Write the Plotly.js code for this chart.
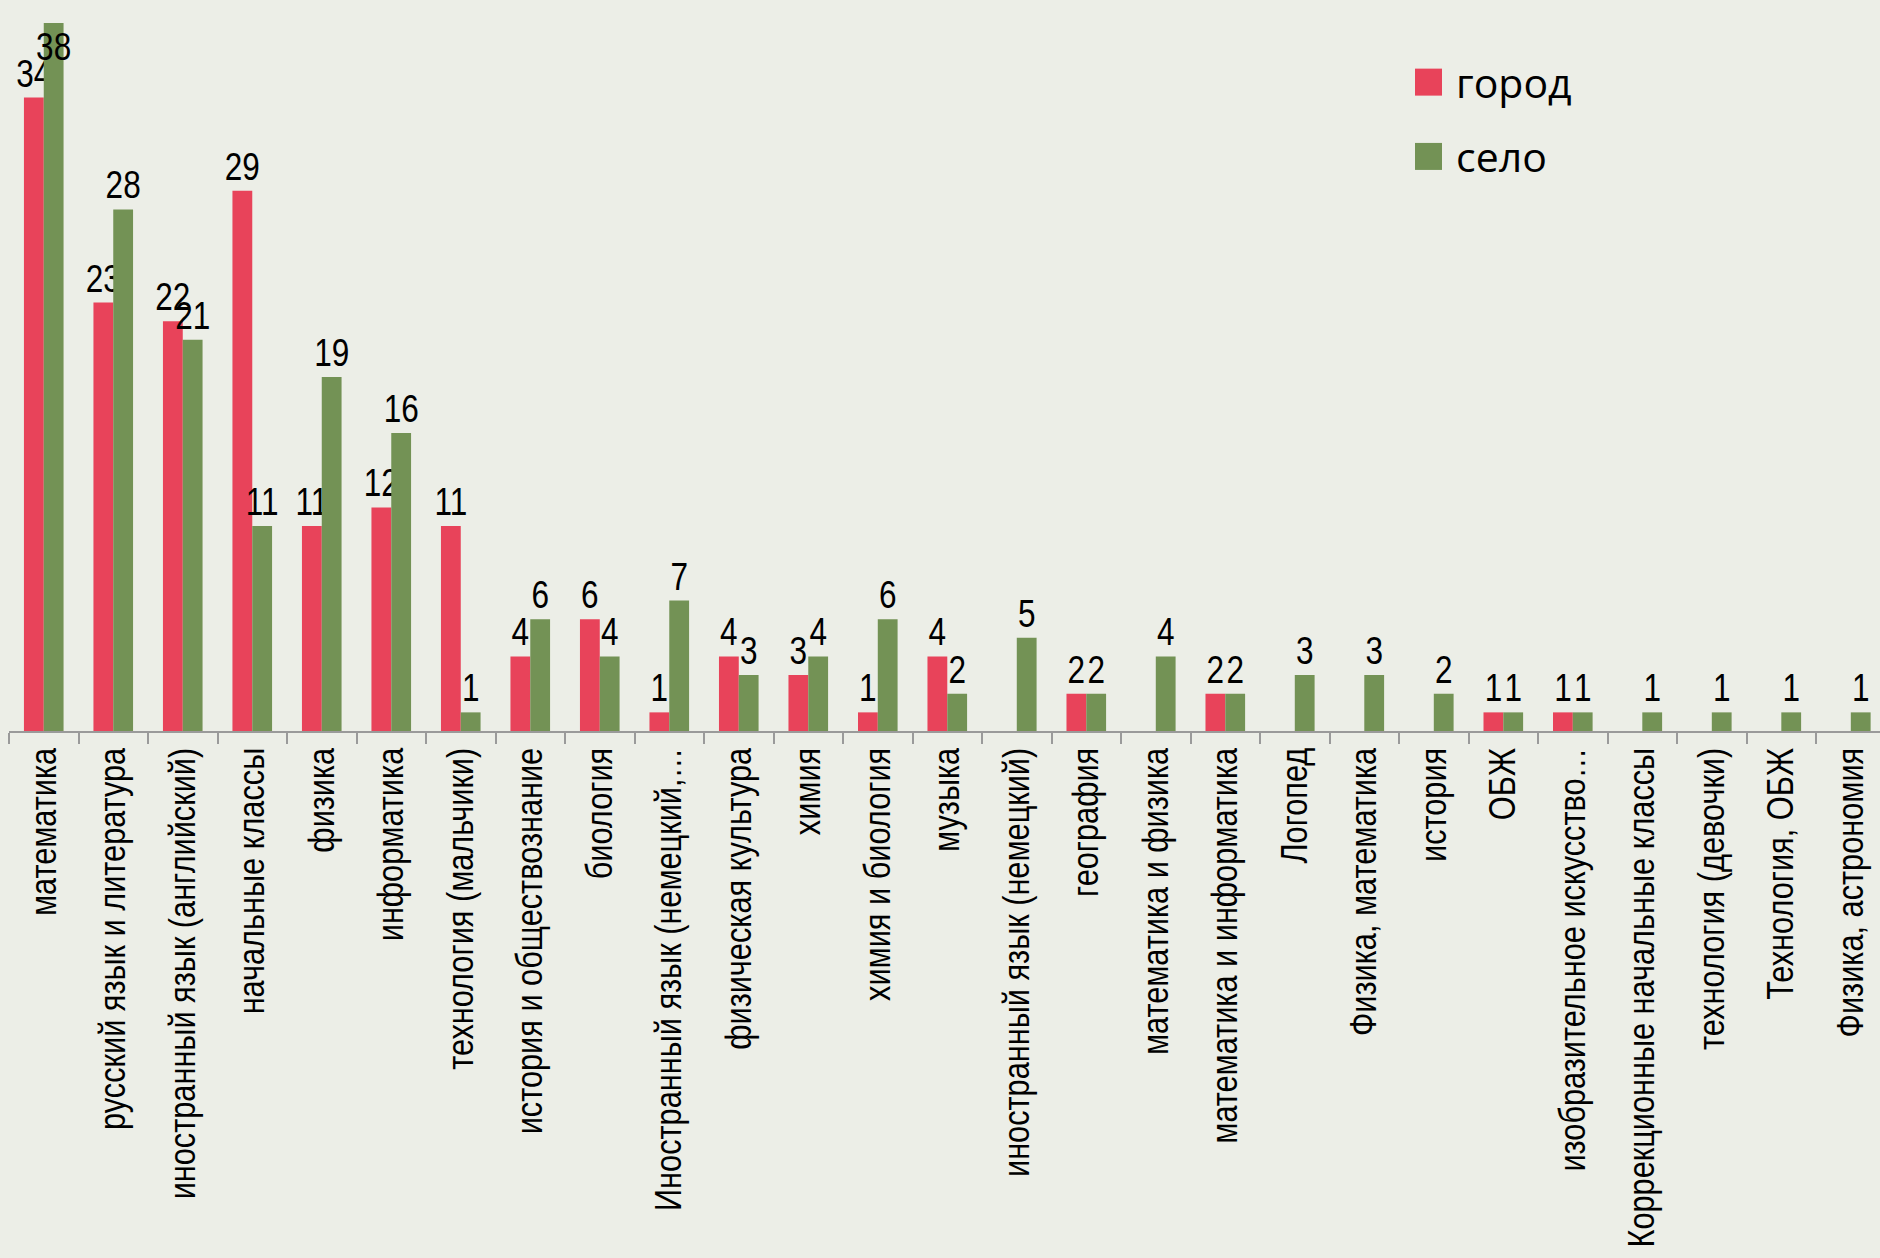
<!DOCTYPE html>
<html>
<head>
<meta charset="utf-8">
<script src="https://cdn.plot.ly/plotly-3.0.1.min.js"></script>
<style>
  html, body { margin: 0; padding: 0; background: #ECEEE7; }
  #chart { width: 1880px; height: 1258px; }
</style>
</head>
<body>
<div id="chart"></div>
<script>
const categories = [
  "математика",
  "русский язык и литература",
  "иностранный язык (английский)",
  "начальные классы",
  "физика",
  "информатика",
  "технология (мальчики)",
  "история и обществознание",
  "биология",
  "Иностранный язык (немецкий,…",
  "физическая культура",
  "химия",
  "химия и биология",
  "музыка",
  "иностранный язык (немецкий)",
  "география",
  "математика и физика",
  "математика и информатика",
  "Логопед",
  "Физика, математика",
  "история",
  "ОБЖ",
  "изобразительное искусство…",
  "Коррекционные начальные классы",
  "технология (девочки)",
  "Технология, ОБЖ",
  "Физика, астрономия"
];
const seriesNames = ["город", "село"];
const gorod = [34, 23, 22, 29, 11, 12, 11, 4, 6, 1, 4, 3, 1, 4, null, 2, null, 2, null, null, null, 1, 1, null, null, null, null];
const selo  = [38, 28, 21, 11, 19, 16, 1, 6, 4, 7, 3, 4, 6, 2, 5, 2, 4, 2, 3, 3, 2, 1, 1, 1, 1, 1, 1];

const SANS = "'Liberation Sans', Arimo, Arial, sans-serif";
const NARROW_FACTOR = 0.83;
const yMax = 39.24;

function posFor(arr) {
  return arr.map(v => (v !== null && v > yMax - 2.5) ? 'inside' : 'outside');
}

function barTrace(name, vals, color, group) {
  return {
    type: 'bar',
    name: name,
    legendgroup: group,
    x: categories,
    y: vals,
    text: vals.map(v => v === null ? '' : String(v)),
    textposition: posFor(vals),
    textangle: 0,
    insidetextanchor: 'end',
    constraintext: 'none',
    cliponaxis: false,
    textfont: { family: SANS, size: 38, color: '#000000' },
    insidetextfont: { family: SANS, size: 38, color: '#000000' },
    outsidetextfont: { family: SANS, size: 38, color: '#000000' },
    marker: { color: color, line: { width: 0 } },
    hoverinfo: 'x+y+name'
  };
}

const data = [
  barTrace(seriesNames[0], gorod, '#E8435A', 'g1'),
  barTrace(seriesNames[1], selo, '#739255', 'g2')
];

const layout = {
  width: 1880,
  height: 1258,
  margin: { l: 9, r: 0, t: 0, b: 527, pad: 0 },
  paper_bgcolor: '#ECEEE7',
  plot_bgcolor: '#ECEEE7',
  barmode: 'group',
  bargap: 0.43,
  bargroupgap: 0,
  showlegend: true,
  legend: {
    x: 0.744, xanchor: 'left',
    y: 0.933, yanchor: 'top',
    bgcolor: 'rgba(0,0,0,0)',
    font: { family: "'Open Sans', 'Noto Sans', sans-serif", size: 41, color: '#000000' },
    itemwidth: 45,
    tracegroupgap: 18,
    traceorder: 'grouped'
  },
  xaxis: {
    type: 'category',
    range: [-0.5, 26.42],
    automargin: false,
    showline: true,
    linecolor: '#9A9A9A',
    linewidth: 2,
    ticks: 'outside',
    tickson: 'boundaries',
    ticklen: 11,
    tickwidth: 2,
    tickcolor: '#9A9A9A',
    tickangle: -90,
    ticklabelstandoff: 0,
    tickfont: { family: SANS, size: 37, color: '#000000' },
    showgrid: false,
    zeroline: false,
    fixedrange: true
  },
  yaxis: {
    range: [0, yMax],
    automargin: false,
    showgrid: false,
    zeroline: false,
    showline: false,
    showticklabels: false,
    ticks: '',
    fixedrange: true
  }
};

function narrowText(el) {
  const len = el.getComputedTextLength();
  if (len > 0) {
    el.setAttribute('textLength', (len * NARROW_FACTOR).toFixed(2));
    el.setAttribute('lengthAdjust', 'spacingAndGlyphs');
  }
}

Plotly.newPlot('chart', data, layout, { displayModeBar: false, staticPlot: true }).then(gd => {
  gd.querySelectorAll('.legend .legendpoints path').forEach(p => {
    const t = p.getAttribute('transform') || '';
    p.setAttribute('transform', t + ' scale(2.25)');
  });
  gd.querySelectorAll('.xtick text, text.bartext').forEach(narrowText);
});
</script>
</body>
</html>
